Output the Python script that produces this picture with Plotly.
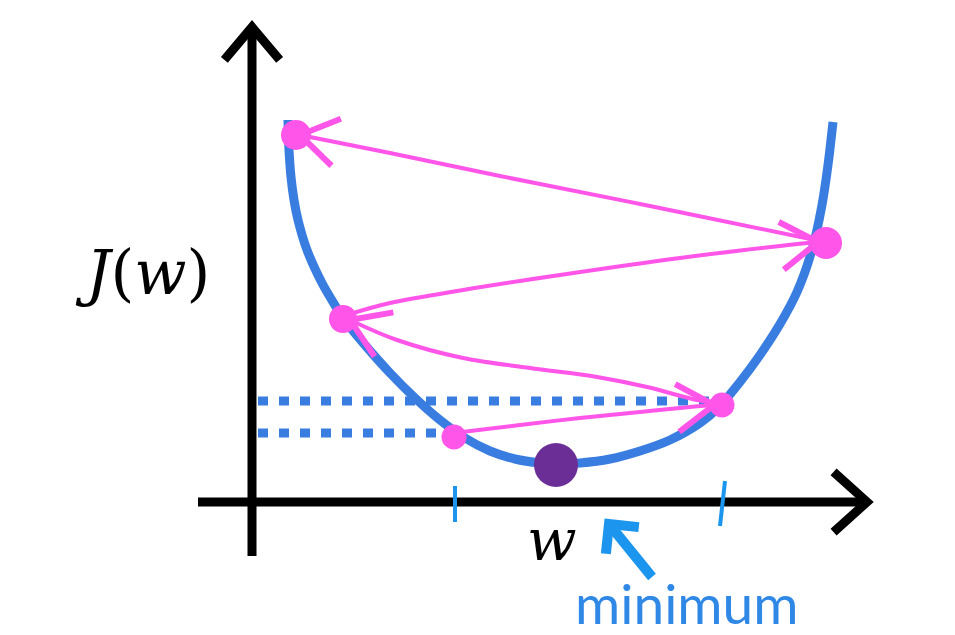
import numpy as np
import plotly.graph_objects as go

# ---- data (diagram coordinates: x to the right, y downward) ----
curve_w = [288, 289, 291, 294, 298, 307, 322, 336, 343, 365, 390, 415, 440, 465, 490,
           515, 540, 557, 580, 610, 640, 670, 700, 718, 740, 760, 780, 797, 812, 822,
           828, 833]
curve_J = [120, 150, 177, 200, 220, 250, 283, 307, 318, 345, 373, 398, 420, 438, 451,
           459, 463, 464, 463, 459, 451, 440, 423, 408, 382, 355, 324, 292, 250, 205,
           165, 122]

# gradient-descent iterates (pink) in order of visiting
step_w = [454, 722, 343, 826, 296]
step_J = [437, 405, 319, 243, 135]

# hand-drawn jump paths between iterates
jump_paths = [
    ([462, 520, 580, 640, 690, 714], [432, 425, 418, 412, 407, 405]),
    ([712, 697, 647, 597, 530, 463, 397, 350], [402, 400, 387, 377, 368, 358, 340, 320]),
    ([350, 390, 463, 560, 680, 780, 818], [314, 303, 290, 275, 258, 246, 242]),
    ([815, 650, 500, 390, 300], [240, 206, 176, 153, 135]),
]

min_w, min_J = [556], [465]

# dotted guide levels (J of the two lowest iterates)
guide_levels = [401, 433]
guide_ends = [712, 444]

# tick marks on the w axis
tick_w_top = [455, 725]
tick_w_bot = [455, 720]
tick_J_top = [486, 481]
tick_J_bot = [522, 526]

BLUE = "#3a7de0"
PINK = "#ff55e8"
PURPLE = "#6b2d96"
LIGHTBLUE = "#1c95ee"
TEXTBLUE = "#2f88e6"
BLACK = "#000000"
STEP_SIZES = [25, 25, 28, 32, 30]

fig = go.Figure()

def seg(xs, ys, color, width, dash=None):
    fig.add_trace(go.Scatter(x=xs, y=ys, mode="lines",
                             line=dict(color=color, width=width, dash=dash),
                             hoverinfo="skip"))

def chevron(xs, ys, color, width, length, angle_deg):
    # open arrowhead at the last point, aligned with the last segment
    x1, y1, x0, y0 = xs[-1], ys[-1], xs[-2], ys[-2]
    d = np.array([x0 - x1, y0 - y1], float)
    d /= np.linalg.norm(d)
    a = np.radians(angle_deg)
    pts = []
    for s in (1, -1):
        r = np.array([[np.cos(s * a), -np.sin(s * a)], [np.sin(s * a), np.cos(s * a)]])
        pts.append(r @ d * length + np.array([x1, y1]))
    seg([pts[0][0], x1, pts[1][0]], [pts[0][1], y1, pts[1][1]], color, width)

# axes (black, hand-drawn arrows)
seg([252, 252], [556, 30], BLACK, 9)
chevron([252, 252], [556, 27], BLACK, 9, 43, 40)
seg([198, 864], [502, 502], BLACK, 9)
chevron([198, 867], [502, 502], BLACK, 9, 45, 42)

# dotted guides
for lvl, end in zip(guide_levels, guide_ends):
    seg([258, end], [lvl, lvl], BLUE, 9, dash="10px,11px")

# cost curve
fig.add_trace(go.Scatter(x=curve_w, y=curve_J, mode="lines",
                         line=dict(color=BLUE, width=9, shape="spline", smoothing=0.8),
                         hoverinfo="skip"))

# ticks
for xt, xb, yt, yb in zip(tick_w_top, tick_w_bot, tick_J_top, tick_J_bot):
    seg([xt, xb], [yt, yb], LIGHTBLUE, 4)

# jumps
for xs, ys in jump_paths:
    fig.add_trace(go.Scatter(x=xs, y=ys, mode="lines",
                             line=dict(color=PINK, width=4, shape="spline"),
                             hoverinfo="skip"))
for xs, ys in jump_paths:
    chevron(xs, ys, PINK, 6, 44, 33)

# iterates
fig.add_trace(go.Scatter(x=step_w, y=step_J, mode="markers",
                         marker=dict(color=PINK, size=STEP_SIZES, opacity=1,
                                     line=dict(width=0)),
                         hoverinfo="skip"))
# minimum
fig.add_trace(go.Scatter(x=min_w, y=min_J, mode="markers",
                         marker=dict(color=PURPLE, size=44, opacity=1,
                                     line=dict(width=0)),
                         hoverinfo="skip"))

# pointer to the minimum
ptr_w = [652, 609]
ptr_J = [577, 524]
seg(ptr_w, ptr_J, LIGHTBLUE, 10)
chevron(ptr_w, ptr_J, LIGHTBLUE, 10, 30, 45)

# text
fig.add_annotation(x=142, y=272, text="<i>J</i>(<i>w</i>)", showarrow=False,
                   font=dict(family="DejaVu Serif", size=61, color=BLACK))
fig.add_annotation(x=552, y=540, text="<i>w</i>", showarrow=False,
                   font=dict(family="DejaVu Serif", size=58, color=BLACK))
fig.add_annotation(x=686, y=603, text="minimum", showarrow=False,
                   font=dict(family="Lato", size=55, color=TEXTBLUE))

fig.update_layout(
    width=955, height=635,
    margin=dict(l=0, r=0, t=0, b=0),
    paper_bgcolor="white", plot_bgcolor="white",
    showlegend=False,
    xaxis=dict(range=[0, 955], visible=False, fixedrange=True),
    yaxis=dict(range=[635, 0], visible=False, fixedrange=True),
)

fig.write_html("out.html", config={"displayModeBar": False},
               post_script="document.body.style.margin='0';")
